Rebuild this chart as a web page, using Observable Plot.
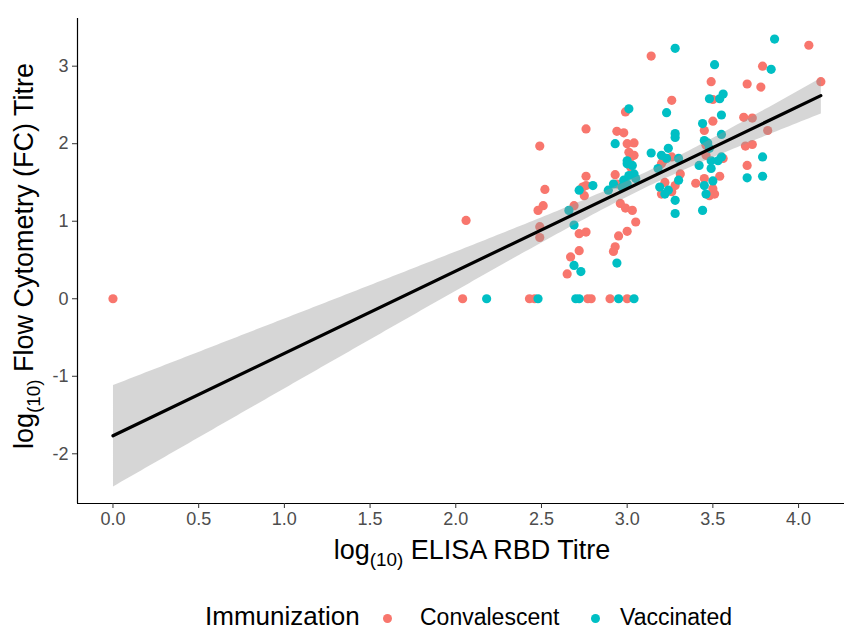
<!DOCTYPE html>
<html><head><meta charset="utf-8">
<script src="https://cdn.jsdelivr.net/npm/d3@7"></script>
<script src="https://cdn.jsdelivr.net/npm/@observablehq/plot@0.6"></script>
<style>
body{margin:0;background:#fff;font-family:"Liberation Sans",Arial,Helvetica,sans-serif;}
#chart svg{display:block;}
#legend{position:relative;height:50px;width:844px;color:#000;}
#legend span{position:absolute;white-space:nowrap;line-height:1;}
#legend .dot{width:9px;height:9px;border-radius:50%;}
</style></head><body>
<div id="chart"></div>
<div id="legend"></div>
<script>
// Immunization groups
const groups = ["Convalescent", "Vaccinated"];
const groupColors = ["#F8766D", "#00BFC4"];

// log10 ELISA RBD titre (x) and log10 flow cytometry titre (y)
const convX = [0.00,2.04,2.43,2.46,2.77,2.79,2.90,3.00,2.06,2.49,2.52,2.51,2.48,2.49,2.49,2.69,2.67,2.65,2.72,2.76,2.72,2.76,2.93,2.74,2.76,2.75,2.94,2.96,2.99,3.03,3.05,3.00,2.95,2.93,2.92,3.02,3.20,3.22,3.20,3.26,3.28,3.31,3.40,3.70,3.54,3.45,3.50,3.51,3.48,4.06,3.79,4.13,3.49,3.70,3.78,3.50,3.50,3.68,3.73,3.82,3.45,3.46,3.69,3.73,3.46,3.56,3.14,3.26,2.99,2.76,2.94,2.98,3.00,3.04,3.01,3.02,3.04,3.21,3.26];
const convY = [0.00,0.00,0.00,0.00,0.00,0.00,0.00,0.00,1.01,1.97,1.41,1.20,1.14,0.93,0.79,1.20,0.54,0.32,0.84,0.86,0.62,1.58,1.60,1.44,1.46,1.33,1.48,1.23,1.17,1.14,0.99,0.87,0.81,0.67,0.61,1.70,1.74,1.50,1.35,1.38,1.46,1.61,1.49,1.72,1.58,1.55,1.42,1.35,1.33,3.27,3.00,2.80,2.80,2.77,2.73,2.57,2.29,2.34,2.33,2.17,2.17,1.98,1.97,1.99,1.85,1.81,3.13,2.56,2.41,2.19,2.16,2.14,2.00,2.01,1.89,1.83,1.85,1.78,1.83];
const vaccX = [2.18,2.48,2.70,2.72,2.95,3.04,2.66,2.72,2.69,2.69,2.73,2.94,2.80,2.89,2.92,2.97,2.98,3.01,3.04,3.05,3.00,3.00,3.03,3.18,3.19,3.22,3.24,3.28,3.28,3.30,3.44,3.42,3.70,3.79,3.49,3.45,3.46,3.50,3.86,3.51,3.84,3.48,3.54,3.56,3.55,3.44,3.55,3.45,3.47,3.48,3.49,3.53,3.28,3.23,3.01,3.28,3.28,2.93,3.14,3.24,3.23,3.20,3.30,3.00,3.55,3.79];
const vaccY = [0.00,0.00,0.00,0.00,0.00,0.00,1.14,1.40,0.95,0.43,0.35,0.46,1.46,1.40,1.48,1.44,1.53,1.59,1.61,1.55,1.48,1.74,1.72,1.68,1.44,1.35,1.40,1.27,1.10,1.53,1.14,1.72,1.56,1.58,1.68,1.46,1.35,1.52,3.35,3.02,2.96,2.58,2.58,2.64,2.37,2.26,2.12,2.04,2.01,1.94,1.78,1.78,3.23,2.40,2.45,2.13,2.08,2.00,1.88,1.94,1.81,1.85,1.81,1.78,1.83,1.83];

const xTicks = [0, 0.5, 1, 1.5, 2, 2.5, 3, 3.5, 4];
const yTicks = [-2, -1, 0, 1, 2, 3];
const xDomain = [-0.207, 4.268];
const yDomain = [-2.641, 3.615];

const data = [];
convX.forEach((x, i) => data.push({x, y: convY[i], g: groups[0]}));
vaccX.forEach((x, i) => data.push({x, y: vaccY[i], g: groups[1]}));

const chart = Plot.plot({
  width: 844,
  height: 580,
  marginLeft: 77,
  marginRight: 0,
  marginTop: 18,
  marginBottom: 77,
  style: {fontFamily: '"Liberation Sans", Arial, sans-serif', background: "#fff"},
  x: {domain: xDomain, ticks: xTicks},
  y: {domain: yDomain, ticks: yTicks},
  color: {domain: groups, range: groupColors},
  marks: [
    Plot.dot(data, {x: "x", y: "y", fill: "g", r: 4.6, stroke: null}),
    Plot.linearRegressionY(data, {x: "x", y: "y", stroke: "#000", strokeWidth: 3.2, fill: "#999999", fillOpacity: 0.4, ci: 0.95}),
    Plot.ruleX([xDomain[0]], {stroke: "#000", strokeWidth: 1.2}),
    Plot.ruleY([yDomain[0]], {stroke: "#000", strokeWidth: 1.2}),
    Plot.axisX({ticks: xTicks, tickFormat: d3.format(".1f"), tickSize: 5, tickPadding: 4, fontSize: 18, color: "#4d4d4d", stroke: "#333", label: null}),
    Plot.axisY({ticks: yTicks, tickFormat: d => d < 0 ? "-" + Math.abs(d) : String(d), tickSize: 5, tickPadding: 4, fontSize: 18, color: "#4d4d4d", stroke: "#333", label: null})
  ]
});
document.getElementById("chart").appendChild(chart);

// axis titles with subscripted "(10)"
const svg = d3.select(chart);
function title(sel, rest) {
  sel.append("tspan").text("log");
  sel.append("tspan").attr("font-size", "0.7em").attr("dy", 7).text("(10)");
  sel.append("tspan").attr("dy", -7).text(" " + rest);
}
const xt = svg.append("text")
  .attr("x", 472).attr("y", 559)
  .attr("text-anchor", "middle")
  .attr("font-size", 27).attr("fill", "#000");
title(xt, "ELISA RBD Titre");
const yt = svg.append("text")
  .attr("transform", "translate(33,256) rotate(-90)")
  .attr("text-anchor", "middle")
  .attr("font-size", 27).attr("fill", "#000");
title(yt, "Flow Cytometry (FC) Titre");

// legend below
const lg = d3.select("#legend");
lg.append("span").style("left", "205px").style("top", "23px").style("font-size", "26px").text("Immunization");
groups.forEach((g, i) => {
  const dx = [383, 591][i];
  const tx = [420, 620][i];
  lg.append("span").attr("class", "dot").style("left", dx + "px").style("top", "34px").style("background", groupColors[i]);
  lg.append("span").style("left", tx + "px").style("top", "26px").style("font-size", "23px").text(g);
});
</script></body></html>
